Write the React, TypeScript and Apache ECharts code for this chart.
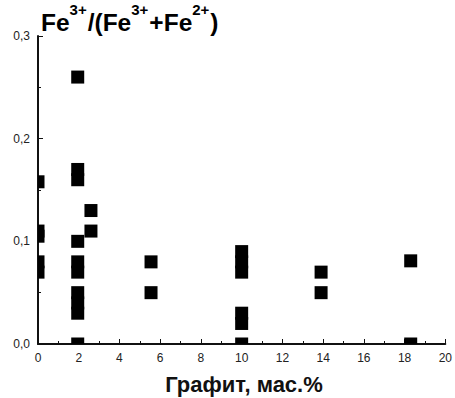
import React, { useEffect, useRef } from "react";
import * as echarts from "echarts";

const grafit = [
  0, 0, 0, 0, 0,
  1.95, 1.95, 1.95, 1.95, 1.95, 1.95, 1.95, 1.95, 1.95, 1.95,
  2.6, 2.6,
  5.55, 5.55,
  10, 10, 10, 10, 10, 10,
  13.9, 13.9,
  18.3, 18.3,
];
const ratio = [
  0.158, 0.11, 0.105, 0.08, 0.07,
  0.26, 0.17, 0.16, 0.1, 0.08, 0.07, 0.05, 0.04, 0.03, 0,
  0.13, 0.11,
  0.08, 0.05,
  0.09, 0.08, 0.07, 0.03, 0.02, 0,
  0.07, 0.05,
  0.081, 0,
];
const xTicks = [0, 2, 4, 6, 8, 10, 12, 14, 16, 18, 20];
const yTicks = [0, 0.1, 0.2, 0.3];
const xTitle = "Графит, мас.%";
// title pieces: [text, isSuperscript]
const titleParts: [string, boolean][] = [
  ["Fe", false],
  ["3+", true],
  ["/(Fe", false],
  ["3+", true],
  ["+Fe", false],
  ["2+", true],
  [")", false],
];

export default function App() {
  const ref = useRef<HTMLDivElement>(null);
  useEffect(() => {
    const chart = echarts.init(ref.current!, null, { renderer: "svg" });
    const font = "Liberation Sans, Arial, sans-serif";
    const lineCol = "#111";
    const xMin = xTicks[0];
    const xMax = xTicks[xTicks.length - 1];
    const yMin = yTicks[0];
    const yMax = yTicks[yTicks.length - 1];
    const S = 13;

    const data = grafit.map((x, i) => {
      const y = ratio[i];
      const w = x === xMin ? S / 2 : S;
      const h = y === yMin ? S / 2 : S;
      return {
        value: [x, y],
        symbolSize: [w, h],
        symbolOffset: [x === xMin ? S / 4 : 0, y === yMin ? -S / 4 : 0],
      };
    });

    // title as plain text pieces, measured with a canvas
    const ctx = document.createElement("canvas").getContext("2d")!;
    const baseSize = 24.5;
    const supSize = 15;
    let cx = 41;
    const titleEls = titleParts.map(([t, sup]) => {
      const size = sup ? supSize : baseSize;
      ctx.font = `bold ${size}px ${font}`;
      const w = ctx.measureText(t).width;
      const el = {
        type: "text",
        x: cx,
        y: sup ? 9.5 : 22.5,
        style: {
          text: t,
          fill: "#000",
          fontSize: size,
          fontWeight: "bold",
          fontFamily: font,
          align: "left",
          verticalAlign: "middle",
        },
      };
      cx += w + (sup ? 1 : 0);
      return el;
    });

    chart.setOption({
      animation: false,
      grid: { left: 38, right: 6, top: 36, bottom: 54 },
      graphic: [
        ...titleEls,
        {
          type: "text",
          x: 244,
          y: 384,
          style: {
            text: xTitle,
            fill: "#111",
            fontSize: 22,
            fontWeight: "bold",
            fontFamily: font,
            align: "center",
            verticalAlign: "middle",
          },
        },
      ],
      xAxis: {
        type: "value",
        min: xMin,
        max: xMax,
        interval: 2,
        axisLine: { show: true, lineStyle: { color: lineCol, width: 2 } },
        axisTick: { show: true, inside: true, length: 5 },
        minorTick: { show: true, splitNumber: 2, length: 3 },
        splitLine: { show: false },
        axisLabel: { fontSize: 12, fontFamily: font, color: "#222", margin: 8 },
      },
      yAxis: {
        type: "value",
        min: yMin,
        max: yMax,
        interval: 0.1,
        axisLine: { show: true, lineStyle: { color: lineCol, width: 2 } },
        axisTick: { show: true, inside: true, length: 5 },
        minorTick: { show: true, splitNumber: 2, length: 3 },
        splitLine: { show: false },
        axisLabel: {
          fontSize: 12,
          fontFamily: font,
          color: "#222",
          margin: 8,
          formatter: (v: number) => v.toFixed(1).replace(".", ","),
        },
      },
      series: [
        {
          type: "scatter",
          symbol: "rect",
          clip: false,
          data,
          itemStyle: { color: "#000", opacity: 1 },
        },
      ],
    });
    return () => chart.dispose();
  }, []);
  return <div ref={ref} style={{ width: 455, height: 398, position: "absolute", left: 0, top: 0 }} />;
}
